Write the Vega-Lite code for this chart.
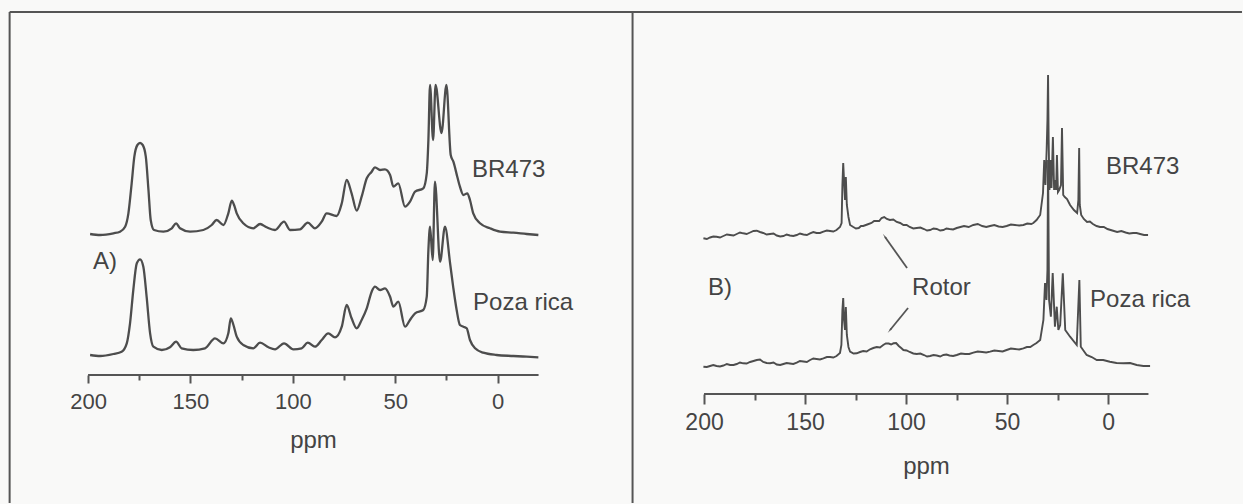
{
  "$schema": "https://vega.github.io/schema/vega-lite/v6.json",
  "width": 1243,
  "height": 504,
  "autosize": {"type": "fit", "contains": "padding"},
  "padding": 0,
  "background": "#f9f9f8",
  "config": {"view": {"stroke": null}, "font": "Liberation Sans"},
  "datasets": {
    "leftSpectra": [
      {"sample":"BR473","ppm":199.0,"v":270},{"sample":"BR473","ppm":194.1,"v":269},{"sample":"BR473","ppm":187.6,"v":270.7},{"sample":"BR473","ppm":184.4,"v":272.3},{"sample":"BR473","ppm":181.9,"v":277.3},{"sample":"BR473","ppm":180.3,"v":290.7},{"sample":"BR473","ppm":178.7,"v":320.7},{"sample":"BR473","ppm":177.4,"v":347.3},{"sample":"BR473","ppm":175.9,"v":359},{"sample":"BR473","ppm":174.6,"v":361},{"sample":"BR473","ppm":173.3,"v":359},{"sample":"BR473","ppm":171.8,"v":347.3},{"sample":"BR473","ppm":170.5,"v":314},{"sample":"BR473","ppm":169.4,"v":284},{"sample":"BR473","ppm":167.8,"v":274},{"sample":"BR473","ppm":163.2,"v":272.3},{"sample":"BR473","ppm":159.1,"v":275.7},{"sample":"BR473","ppm":157.0,"v":280.7},{"sample":"BR473","ppm":155.1,"v":275.7},{"sample":"BR473","ppm":150.2,"v":272.3},{"sample":"BR473","ppm":143.7,"v":274},{"sample":"BR473","ppm":139.6,"v":279},{"sample":"BR473","ppm":137.2,"v":284},{"sample":"BR473","ppm":133.9,"v":279},{"sample":"BR473","ppm":131.5,"v":290.7},{"sample":"BR473","ppm":129.8,"v":303.3},{"sample":"BR473","ppm":128.7,"v":299},{"sample":"BR473","ppm":127.4,"v":290.7},{"sample":"BR473","ppm":124.2,"v":280.7},{"sample":"BR473","ppm":119.3,"v":275.7},{"sample":"BR473","ppm":116.0,"v":280},{"sample":"BR473","ppm":112.8,"v":276.7},{"sample":"BR473","ppm":108.7,"v":274},{"sample":"BR473","ppm":104.3,"v":282.3},{"sample":"BR473","ppm":101.4,"v":274},{"sample":"BR473","ppm":96.5,"v":274.7},{"sample":"BR473","ppm":92.7,"v":281.3},{"sample":"BR473","ppm":89.2,"v":275.7},{"sample":"BR473","ppm":85.9,"v":282.3},{"sample":"BR473","ppm":83.5,"v":290.7},{"sample":"BR473","ppm":78.6,"v":288},{"sample":"BR473","ppm":76.1,"v":300.7},{"sample":"BR473","ppm":73.7,"v":324},{"sample":"BR473","ppm":71.3,"v":310.7},{"sample":"BR473","ppm":68.8,"v":293.3},{"sample":"BR473","ppm":66.4,"v":307.3},{"sample":"BR473","ppm":63.9,"v":325.7},{"sample":"BR473","ppm":61.5,"v":332.3},{"sample":"BR473","ppm":59.9,"v":336.7},{"sample":"BR473","ppm":57.4,"v":334},{"sample":"BR473","ppm":55.0,"v":334.7},{"sample":"BR473","ppm":52.5,"v":329},{"sample":"BR473","ppm":50.9,"v":317.3},{"sample":"BR473","ppm":48.5,"v":320.7},{"sample":"BR473","ppm":45.2,"v":297.3},{"sample":"BR473","ppm":42.8,"v":302.3},{"sample":"BR473","ppm":40.3,"v":312.3},{"sample":"BR473","ppm":36.3,"v":315.7},{"sample":"BR473","ppm":34.6,"v":330.7},{"sample":"BR473","ppm":33.8,"v":364},{"sample":"BR473","ppm":33.0,"v":419},{"sample":"BR473","ppm":31.5,"v":364},{"sample":"BR473","ppm":30.3,"v":419},{"sample":"BR473","ppm":27.4,"v":371},{"sample":"BR473","ppm":25.0,"v":419},{"sample":"BR473","ppm":22.9,"v":349},{"sample":"BR473","ppm":21.6,"v":342.3},{"sample":"BR473","ppm":19.7,"v":327.3},{"sample":"BR473","ppm":18.4,"v":317.3},{"sample":"BR473","ppm":16.7,"v":309},{"sample":"BR473","ppm":14.8,"v":310.7},{"sample":"BR473","ppm":13.5,"v":304},{"sample":"BR473","ppm":11.9,"v":290.7},{"sample":"BR473","ppm":8.6,"v":280.7},{"sample":"BR473","ppm":3.7,"v":275.7},{"sample":"BR473","ppm":-1.2,"v":272.3},{"sample":"BR473","ppm":-7.7,"v":271.3},{"sample":"BR473","ppm":-14.2,"v":270},{"sample":"BR473","ppm":-19.9,"v":269},
      {"sample":"Poza rica","ppm":199.0,"v":149},{"sample":"Poza rica","ppm":194.1,"v":148},{"sample":"Poza rica","ppm":187.6,"v":150},{"sample":"Poza rica","ppm":183.6,"v":152.3},{"sample":"Poza rica","ppm":181.1,"v":160.7},{"sample":"Poza rica","ppm":179.5,"v":180.7},{"sample":"Poza rica","ppm":177.9,"v":214},{"sample":"Poza rica","ppm":176.2,"v":240.7},{"sample":"Poza rica","ppm":174.6,"v":244.7},{"sample":"Poza rica","ppm":173.0,"v":237.3},{"sample":"Poza rica","ppm":171.4,"v":207.3},{"sample":"Poza rica","ppm":169.7,"v":170.7},{"sample":"Poza rica","ppm":168.1,"v":157.3},{"sample":"Poza rica","ppm":164.0,"v":154},{"sample":"Poza rica","ppm":160.0,"v":156.7},{"sample":"Poza rica","ppm":157.0,"v":162.3},{"sample":"Poza rica","ppm":154.3,"v":155.7},{"sample":"Poza rica","ppm":148.6,"v":154},{"sample":"Poza rica","ppm":142.9,"v":155.7},{"sample":"Poza rica","ppm":138.0,"v":165.7},{"sample":"Poza rica","ppm":133.9,"v":160.7},{"sample":"Poza rica","ppm":131.5,"v":170.7},{"sample":"Poza rica","ppm":130.3,"v":185.7},{"sample":"Poza rica","ppm":129.0,"v":179},{"sample":"Poza rica","ppm":127.4,"v":167.3},{"sample":"Poza rica","ppm":124.2,"v":159},{"sample":"Poza rica","ppm":119.3,"v":155.7},{"sample":"Poza rica","ppm":116.0,"v":161.3},{"sample":"Poza rica","ppm":111.9,"v":156.7},{"sample":"Poza rica","ppm":108.7,"v":154.7},{"sample":"Poza rica","ppm":104.3,"v":160.7},{"sample":"Poza rica","ppm":99.7,"v":154.7},{"sample":"Poza rica","ppm":95.7,"v":155.7},{"sample":"Poza rica","ppm":92.7,"v":161.3},{"sample":"Poza rica","ppm":89.2,"v":157.3},{"sample":"Poza rica","ppm":85.9,"v":164},{"sample":"Poza rica","ppm":82.7,"v":170.7},{"sample":"Poza rica","ppm":79.4,"v":166.7},{"sample":"Poza rica","ppm":76.1,"v":177.3},{"sample":"Poza rica","ppm":73.7,"v":199},{"sample":"Poza rica","ppm":71.3,"v":185.7},{"sample":"Poza rica","ppm":68.8,"v":175.7},{"sample":"Poza rica","ppm":66.4,"v":184},{"sample":"Poza rica","ppm":63.9,"v":195.7},{"sample":"Poza rica","ppm":61.5,"v":212.3},{"sample":"Poza rica","ppm":59.9,"v":217.3},{"sample":"Poza rica","ppm":57.4,"v":214},{"sample":"Poza rica","ppm":55.0,"v":215.7},{"sample":"Poza rica","ppm":52.5,"v":207.3},{"sample":"Poza rica","ppm":50.9,"v":197.3},{"sample":"Poza rica","ppm":48.5,"v":202.3},{"sample":"Poza rica","ppm":45.2,"v":177.3},{"sample":"Poza rica","ppm":42.8,"v":184},{"sample":"Poza rica","ppm":40.3,"v":190.7},{"sample":"Poza rica","ppm":36.3,"v":194},{"sample":"Poza rica","ppm":34.6,"v":207.3},{"sample":"Poza rica","ppm":33.8,"v":254},{"sample":"Poza rica","ppm":33.0,"v":277.3},{"sample":"Poza rica","ppm":31.7,"v":244},{"sample":"Poza rica","ppm":30.6,"v":322.3},{"sample":"Poza rica","ppm":28.1,"v":242.3},{"sample":"Poza rica","ppm":25.7,"v":277.3},{"sample":"Poza rica","ppm":23.2,"v":240.7},{"sample":"Poza rica","ppm":21.6,"v":215.7},{"sample":"Poza rica","ppm":20.0,"v":194},{"sample":"Poza rica","ppm":18.4,"v":179},{"sample":"Poza rica","ppm":16.7,"v":177.3},{"sample":"Poza rica","ppm":15.1,"v":175.7},{"sample":"Poza rica","ppm":13.5,"v":164},{"sample":"Poza rica","ppm":11.0,"v":155.7},{"sample":"Poza rica","ppm":7.0,"v":151.3},{"sample":"Poza rica","ppm":0.5,"v":149},{"sample":"Poza rica","ppm":-7.7,"v":148},{"sample":"Poza rica","ppm":-14.2,"v":147.3},{"sample":"Poza rica","ppm":-19.9,"v":146.7}
    ],
    "rightSpectra": [
      {"sample":"BR473","ppm":200.3,"v":265.7},{"sample":"BR473","ppm":198.6,"v":265},{"sample":"BR473","ppm":197.0,"v":266.5},{"sample":"BR473","ppm":195.4,"v":267.5},{"sample":"BR473","ppm":193.8,"v":267.3},{"sample":"BR473","ppm":192.1,"v":266.5},{"sample":"BR473","ppm":190.4,"v":268},{"sample":"BR473","ppm":188.7,"v":269.5},{"sample":"BR473","ppm":187.1,"v":269},{"sample":"BR473","ppm":185.4,"v":268.5},{"sample":"BR473","ppm":183.8,"v":270},{"sample":"BR473","ppm":182.2,"v":271.5},{"sample":"BR473","ppm":180.6,"v":270.7},{"sample":"BR473","ppm":178.9,"v":270},{"sample":"BR473","ppm":177.2,"v":271.5},{"sample":"BR473","ppm":175.5,"v":273},{"sample":"BR473","ppm":173.9,"v":273.3},{"sample":"BR473","ppm":172.3,"v":272},{"sample":"BR473","ppm":170.7,"v":271},{"sample":"BR473","ppm":169.0,"v":269.5},{"sample":"BR473","ppm":167.3,"v":270},{"sample":"BR473","ppm":165.6,"v":270.5},{"sample":"BR473","ppm":164.0,"v":268.5},{"sample":"BR473","ppm":162.3,"v":267.5},{"sample":"BR473","ppm":160.7,"v":268},{"sample":"BR473","ppm":159.1,"v":269.5},{"sample":"BR473","ppm":157.5,"v":268.5},{"sample":"BR473","ppm":155.8,"v":268},{"sample":"BR473","ppm":154.1,"v":269},{"sample":"BR473","ppm":152.5,"v":270.5},{"sample":"BR473","ppm":150.8,"v":269.5},{"sample":"BR473","ppm":149.1,"v":269},{"sample":"BR473","ppm":147.5,"v":270.7},{"sample":"BR473","ppm":145.9,"v":272},{"sample":"BR473","ppm":144.3,"v":271},{"sample":"BR473","ppm":142.6,"v":271},{"sample":"BR473","ppm":140.9,"v":272.3},{"sample":"BR473","ppm":139.2,"v":273.5},{"sample":"BR473","ppm":137.6,"v":273},{"sample":"BR473","ppm":136.0,"v":272.5},{"sample":"BR473","ppm":134.4,"v":274},{"sample":"BR473","ppm":132.7,"v":277},{"sample":"BR473","ppm":131.9,"v":281},{"sample":"BR473","ppm":131.5,"v":319},{"sample":"BR473","ppm":131.1,"v":341},{"sample":"BR473","ppm":130.7,"v":324},{"sample":"BR473","ppm":130.2,"v":304},{"sample":"BR473","ppm":129.8,"v":327},{"sample":"BR473","ppm":129.3,"v":299},{"sample":"BR473","ppm":128.5,"v":287},{"sample":"BR473","ppm":127.7,"v":279},{"sample":"BR473","ppm":126.1,"v":277},{"sample":"BR473","ppm":124.8,"v":275.5},{"sample":"BR473","ppm":123.4,"v":276},{"sample":"BR473","ppm":122.3,"v":278},{"sample":"BR473","ppm":121.2,"v":278},{"sample":"BR473","ppm":119.2,"v":279.5},{"sample":"BR473","ppm":117.1,"v":281},{"sample":"BR473","ppm":115.8,"v":283},{"sample":"BR473","ppm":114.5,"v":283},{"sample":"BR473","ppm":113.3,"v":283},{"sample":"BR473","ppm":112.1,"v":286},{"sample":"BR473","ppm":110.8,"v":287},{"sample":"BR473","ppm":109.5,"v":285},{"sample":"BR473","ppm":108.0,"v":284},{"sample":"BR473","ppm":106.3,"v":284.5},{"sample":"BR473","ppm":104.6,"v":282},{"sample":"BR473","ppm":102.9,"v":281},{"sample":"BR473","ppm":101.3,"v":279},{"sample":"BR473","ppm":99.7,"v":279},{"sample":"BR473","ppm":98.2,"v":277},{"sample":"BR473","ppm":96.4,"v":275.5},{"sample":"BR473","ppm":94.7,"v":276},{"sample":"BR473","ppm":92.9,"v":276.5},{"sample":"BR473","ppm":91.1,"v":275},{"sample":"BR473","ppm":89.6,"v":273.5},{"sample":"BR473","ppm":88.1,"v":274},{"sample":"BR473","ppm":86.4,"v":275.5},{"sample":"BR473","ppm":84.8,"v":275},{"sample":"BR473","ppm":83.1,"v":273.5},{"sample":"BR473","ppm":81.5,"v":274},{"sample":"BR473","ppm":80.0,"v":275.5},{"sample":"BR473","ppm":78.5,"v":275},{"sample":"BR473","ppm":76.7,"v":274.5},{"sample":"BR473","ppm":74.9,"v":276},{"sample":"BR473","ppm":73.1,"v":277},{"sample":"BR473","ppm":71.3,"v":278},{"sample":"BR473","ppm":69.0,"v":277},{"sample":"BR473","ppm":66.7,"v":279},{"sample":"BR473","ppm":64.5,"v":280},{"sample":"BR473","ppm":62.3,"v":278},{"sample":"BR473","ppm":60.3,"v":277},{"sample":"BR473","ppm":58.4,"v":278},{"sample":"BR473","ppm":56.3,"v":279},{"sample":"BR473","ppm":54.2,"v":277.5},{"sample":"BR473","ppm":52.2,"v":277},{"sample":"BR473","ppm":50.2,"v":278},{"sample":"BR473","ppm":48.1,"v":279.5},{"sample":"BR473","ppm":46.1,"v":279},{"sample":"BR473","ppm":44.0,"v":278.5},{"sample":"BR473","ppm":41.9,"v":279},{"sample":"BR473","ppm":40.0,"v":280.5},{"sample":"BR473","ppm":38.0,"v":280},{"sample":"BR473","ppm":37.0,"v":281},{"sample":"BR473","ppm":35.4,"v":284},{"sample":"BR473","ppm":33.6,"v":289},{"sample":"BR473","ppm":32.2,"v":311},{"sample":"BR473","ppm":31.6,"v":344},{"sample":"BR473","ppm":31.0,"v":319},{"sample":"BR473","ppm":30.4,"v":354},{"sample":"BR473","ppm":30.0,"v":384},{"sample":"BR473","ppm":29.7,"v":429},{"sample":"BR473","ppm":29.4,"v":364},{"sample":"BR473","ppm":29.0,"v":314},{"sample":"BR473","ppm":28.4,"v":344},{"sample":"BR473","ppm":28.0,"v":316},{"sample":"BR473","ppm":27.3,"v":367},{"sample":"BR473","ppm":26.7,"v":314},{"sample":"BR473","ppm":26.3,"v":324},{"sample":"BR473","ppm":25.7,"v":314},{"sample":"BR473","ppm":25.3,"v":349},{"sample":"BR473","ppm":24.8,"v":312},{"sample":"BR473","ppm":24.2,"v":314},{"sample":"BR473","ppm":23.3,"v":319},{"sample":"BR473","ppm":22.8,"v":376},{"sample":"BR473","ppm":22.2,"v":309},{"sample":"BR473","ppm":21.4,"v":307},{"sample":"BR473","ppm":20.3,"v":305},{"sample":"BR473","ppm":18.8,"v":299},{"sample":"BR473","ppm":16.9,"v":294},{"sample":"BR473","ppm":15.3,"v":291},{"sample":"BR473","ppm":14.7,"v":304},{"sample":"BR473","ppm":14.3,"v":356},{"sample":"BR473","ppm":14.0,"v":299},{"sample":"BR473","ppm":13.3,"v":289},{"sample":"BR473","ppm":12.0,"v":285},{"sample":"BR473","ppm":10.4,"v":282},{"sample":"BR473","ppm":9.0,"v":282.5},{"sample":"BR473","ppm":7.5,"v":280},{"sample":"BR473","ppm":5.7,"v":278},{"sample":"BR473","ppm":4.0,"v":277},{"sample":"BR473","ppm":2.1,"v":277},{"sample":"BR473","ppm":0.3,"v":275},{"sample":"BR473","ppm":-2.1,"v":273.5},{"sample":"BR473","ppm":-4.5,"v":272},{"sample":"BR473","ppm":-6.6,"v":273},{"sample":"BR473","ppm":-8.7,"v":271.5},{"sample":"BR473","ppm":-10.5,"v":270.5},{"sample":"BR473","ppm":-12.4,"v":271},{"sample":"BR473","ppm":-14.1,"v":271},{"sample":"BR473","ppm":-15.9,"v":270},{"sample":"BR473","ppm":-17.8,"v":269},{"sample":"BR473","ppm":-19.8,"v":269},
      {"sample":"Poza rica","ppm":200.3,"v":137.3},{"sample":"Poza rica","ppm":198.6,"v":137},{"sample":"Poza rica","ppm":197.0,"v":138},{"sample":"Poza rica","ppm":195.4,"v":139},{"sample":"Poza rica","ppm":193.8,"v":138},{"sample":"Poza rica","ppm":192.1,"v":137.5},{"sample":"Poza rica","ppm":190.4,"v":138.5},{"sample":"Poza rica","ppm":188.7,"v":140},{"sample":"Poza rica","ppm":187.1,"v":139},{"sample":"Poza rica","ppm":185.4,"v":139},{"sample":"Poza rica","ppm":183.8,"v":140},{"sample":"Poza rica","ppm":182.2,"v":141.5},{"sample":"Poza rica","ppm":180.6,"v":140.7},{"sample":"Poza rica","ppm":178.9,"v":140.5},{"sample":"Poza rica","ppm":177.2,"v":142},{"sample":"Poza rica","ppm":175.5,"v":143},{"sample":"Poza rica","ppm":173.9,"v":144},{"sample":"Poza rica","ppm":172.3,"v":144.5},{"sample":"Poza rica","ppm":170.7,"v":142},{"sample":"Poza rica","ppm":169.0,"v":141},{"sample":"Poza rica","ppm":167.3,"v":140.7},{"sample":"Poza rica","ppm":165.6,"v":141.5},{"sample":"Poza rica","ppm":164.0,"v":139.5},{"sample":"Poza rica","ppm":162.3,"v":139},{"sample":"Poza rica","ppm":160.7,"v":140},{"sample":"Poza rica","ppm":159.1,"v":141},{"sample":"Poza rica","ppm":157.5,"v":140.5},{"sample":"Poza rica","ppm":155.8,"v":140},{"sample":"Poza rica","ppm":154.1,"v":141.3},{"sample":"Poza rica","ppm":152.5,"v":143},{"sample":"Poza rica","ppm":150.8,"v":142.5},{"sample":"Poza rica","ppm":149.1,"v":142},{"sample":"Poza rica","ppm":147.5,"v":144},{"sample":"Poza rica","ppm":145.9,"v":145.5},{"sample":"Poza rica","ppm":144.3,"v":145},{"sample":"Poza rica","ppm":142.6,"v":144.5},{"sample":"Poza rica","ppm":140.9,"v":145.7},{"sample":"Poza rica","ppm":139.2,"v":147},{"sample":"Poza rica","ppm":137.6,"v":147},{"sample":"Poza rica","ppm":136.0,"v":146.5},{"sample":"Poza rica","ppm":134.4,"v":148},{"sample":"Poza rica","ppm":132.7,"v":151},{"sample":"Poza rica","ppm":132.0,"v":159},{"sample":"Poza rica","ppm":131.5,"v":194},{"sample":"Poza rica","ppm":131.1,"v":206},{"sample":"Poza rica","ppm":130.7,"v":184},{"sample":"Poza rica","ppm":130.2,"v":174},{"sample":"Poza rica","ppm":129.8,"v":197},{"sample":"Poza rica","ppm":129.3,"v":169},{"sample":"Poza rica","ppm":128.5,"v":157},{"sample":"Poza rica","ppm":127.7,"v":152.3},{"sample":"Poza rica","ppm":126.0,"v":150.5},{"sample":"Poza rica","ppm":124.4,"v":150.7},{"sample":"Poza rica","ppm":122.8,"v":152},{"sample":"Poza rica","ppm":121.2,"v":153},{"sample":"Poza rica","ppm":119.5,"v":152.5},{"sample":"Poza rica","ppm":117.8,"v":154.7},{"sample":"Poza rica","ppm":116.2,"v":156},{"sample":"Poza rica","ppm":114.5,"v":157},{"sample":"Poza rica","ppm":112.9,"v":156.5},{"sample":"Poza rica","ppm":111.3,"v":159},{"sample":"Poza rica","ppm":110.0,"v":160.5},{"sample":"Poza rica","ppm":108.6,"v":160.5},{"sample":"Poza rica","ppm":107.4,"v":159.5},{"sample":"Poza rica","ppm":106.2,"v":160.7},{"sample":"Poza rica","ppm":104.9,"v":161},{"sample":"Poza rica","ppm":103.6,"v":158},{"sample":"Poza rica","ppm":102.4,"v":156},{"sample":"Poza rica","ppm":101.3,"v":154},{"sample":"Poza rica","ppm":99.7,"v":153.5},{"sample":"Poza rica","ppm":98.2,"v":152},{"sample":"Poza rica","ppm":96.4,"v":150.5},{"sample":"Poza rica","ppm":94.7,"v":150},{"sample":"Poza rica","ppm":92.9,"v":150.5},{"sample":"Poza rica","ppm":91.1,"v":149},{"sample":"Poza rica","ppm":89.6,"v":147.5},{"sample":"Poza rica","ppm":88.1,"v":148},{"sample":"Poza rica","ppm":86.4,"v":149},{"sample":"Poza rica","ppm":84.8,"v":148.5},{"sample":"Poza rica","ppm":83.1,"v":147.5},{"sample":"Poza rica","ppm":81.5,"v":149},{"sample":"Poza rica","ppm":80.0,"v":149.5},{"sample":"Poza rica","ppm":78.5,"v":148.5},{"sample":"Poza rica","ppm":76.7,"v":148},{"sample":"Poza rica","ppm":74.9,"v":149},{"sample":"Poza rica","ppm":72.8,"v":150.5},{"sample":"Poza rica","ppm":70.8,"v":150},{"sample":"Poza rica","ppm":68.7,"v":150},{"sample":"Poza rica","ppm":66.7,"v":151.3},{"sample":"Poza rica","ppm":64.5,"v":152.5},{"sample":"Poza rica","ppm":62.3,"v":152},{"sample":"Poza rica","ppm":60.3,"v":151.5},{"sample":"Poza rica","ppm":58.4,"v":152.3},{"sample":"Poza rica","ppm":56.3,"v":153.5},{"sample":"Poza rica","ppm":54.2,"v":153},{"sample":"Poza rica","ppm":52.2,"v":152.5},{"sample":"Poza rica","ppm":50.2,"v":154},{"sample":"Poza rica","ppm":48.1,"v":155.5},{"sample":"Poza rica","ppm":46.1,"v":155},{"sample":"Poza rica","ppm":44.0,"v":154.5},{"sample":"Poza rica","ppm":41.9,"v":155.7},{"sample":"Poza rica","ppm":40.2,"v":157},{"sample":"Poza rica","ppm":38.5,"v":157},{"sample":"Poza rica","ppm":37.0,"v":159},{"sample":"Poza rica","ppm":35.4,"v":161},{"sample":"Poza rica","ppm":33.6,"v":164},{"sample":"Poza rica","ppm":32.0,"v":184},{"sample":"Poza rica","ppm":31.2,"v":221},{"sample":"Poza rica","ppm":30.5,"v":204},{"sample":"Poza rica","ppm":30.0,"v":234},{"sample":"Poza rica","ppm":29.7,"v":344},{"sample":"Poza rica","ppm":29.2,"v":204},{"sample":"Poza rica","ppm":28.3,"v":187.3},{"sample":"Poza rica","ppm":27.4,"v":231},{"sample":"Poza rica","ppm":26.3,"v":177.3},{"sample":"Poza rica","ppm":25.4,"v":197.3},{"sample":"Poza rica","ppm":24.6,"v":174},{"sample":"Poza rica","ppm":23.7,"v":179},{"sample":"Poza rica","ppm":22.4,"v":230.7},{"sample":"Poza rica","ppm":21.2,"v":174},{"sample":"Poza rica","ppm":18.8,"v":167.3},{"sample":"Poza rica","ppm":15.5,"v":159},{"sample":"Poza rica","ppm":14.2,"v":224},{"sample":"Poza rica","ppm":13.5,"v":157.3},{"sample":"Poza rica","ppm":10.6,"v":149},{"sample":"Poza rica","ppm":8.1,"v":147},{"sample":"Poza rica","ppm":5.6,"v":144},{"sample":"Poza rica","ppm":2.4,"v":144},{"sample":"Poza rica","ppm":-0.9,"v":142.3},{"sample":"Poza rica","ppm":-4.2,"v":141},{"sample":"Poza rica","ppm":-7.6,"v":140.7},{"sample":"Poza rica","ppm":-10.9,"v":141},{"sample":"Poza rica","ppm":-14.2,"v":139},{"sample":"Poza rica","ppm":-17.5,"v":138},{"sample":"Poza rica","ppm":-20.8,"v":138}
    ],
    "leftLabels": [
      {"ppm": 12.5, "v": 334, "label": "BR473"},
      {"ppm": 12.0, "v": 201, "label": "Poza rica"},
      {"ppm": 197.6, "v": 242, "label": "A)"}
    ],
    "rightLabels": [
      {"ppm": 1.0, "v": 337, "label": "BR473"},
      {"ppm": 8.9, "v": 204, "label": "Poza rica"},
      {"ppm": 198.0, "v": 216, "label": "B)"},
      {"ppm": 97.0, "v": 216, "label": "Rotor"}
    ],
    "frame": [
      {"ppm": 238.3, "v": 492, "ppm2": -363.5, "v2": 492},
      {"ppm": 238.3, "v": 492, "ppm2": 238.3, "v2": 1},
      {"ppm": -65.9, "v": 492, "ppm2": -65.9, "v2": 1}
    ],
    "leftAxisLine": [{"ppm": 200, "ppm2": -20, "v": 129}],
    "rightAxisLine": [{"ppm": 200, "ppm2": -20, "v": 110}],
    "arrowLines": [
      {"ppm": 99.5, "v": 236, "ppm2": 110.4, "v2": 267},
      {"ppm": 99.0, "v": 196, "ppm2": 107.9, "v2": 174}
    ],
    "arrowUp": [{"ppm": 110.4, "v": 267}],
    "arrowDown": [{"ppm": 107.9, "v": 174}]
  },
  "layer": [
    {
      "layer": [
        {
          "data": {"name": "leftSpectra"},
          "mark": {"type": "line", "color": "#4d4d4d", "strokeWidth": 2.3, "interpolate": "monotone"},
          "encoding": {
            "x": {"field": "ppm", "type": "quantitative",
              "scale": {"domain": [-364, 243], "reverse": true, "nice": false, "zero": false},
              "axis": {
                "orient": "bottom", "offset": -129,
                "values": [200, 175, 150, 125, 100, 75, 50, 25, 0],
                "labelExpr": "datum.value % 50 === 0 ? datum.label : ''",
                "domain": false, "grid": false,
                "tickSize": {"condition": {"test": "datum.value % 50 === 0", "value": 8}, "value": 5},
                "tickColor": "#555555", "tickWidth": 2,
                "labelFontSize": 22, "labelFont": "Liberation Sans", "labelColor": "#444444",
                "labelPadding": 8, "labelFlush": false, "labelOverlap": false,
                "title": "ppm", "titleFontSize": 24, "titleFont": "Liberation Sans", "titleFontWeight": "normal",
                "titleColor": "#444444", "titleX": 313, "titleY": 72.5, "titleBaseline": "alphabetic", "titleAlign": "center"
              }},
            "y": {"field": "v", "type": "quantitative", "scale": {"domain": [0, 504], "nice": false, "zero": false}, "axis": null},
            "detail": {"field": "sample"}
          }
        },
        {
          "data": {"name": "frame"},
          "mark": {"type": "rule", "color": "#555555", "strokeWidth": 2},
          "encoding": {
            "x": {"field": "ppm", "type": "quantitative", "scale": {"domain": [-364, 243], "reverse": true, "nice": false, "zero": false}},
            "x2": {"field": "ppm2"},
            "y": {"field": "v", "type": "quantitative", "scale": {"domain": [0, 504], "nice": false, "zero": false}},
            "y2": {"field": "v2"}
          }
        },
        {
          "data": {"name": "leftAxisLine"},
          "mark": {"type": "rule", "color": "#555555", "strokeWidth": 2},
          "encoding": {
            "x": {"field": "ppm", "type": "quantitative", "scale": {"domain": [-364, 243], "reverse": true, "nice": false, "zero": false}},
            "x2": {"field": "ppm2"},
            "y": {"field": "v", "type": "quantitative", "scale": {"domain": [0, 504], "nice": false, "zero": false}}
          }
        },
        {
          "data": {"name": "leftLabels"},
          "mark": {"type": "text", "align": "left", "baseline": "middle", "fontSize": 24, "font": "Liberation Sans", "color": "#444444"},
          "encoding": {
            "x": {"field": "ppm", "type": "quantitative", "scale": {"domain": [-364, 243], "reverse": true, "nice": false, "zero": false}},
            "y": {"field": "v", "type": "quantitative", "scale": {"domain": [0, 504], "nice": false, "zero": false}},
            "text": {"field": "label"}
          }
        }
      ]
    },
    {
      "layer": [
        {
          "data": {"name": "rightSpectra"},
          "mark": {"type": "line", "color": "#4d4d4d", "strokeWidth": 1.9},
          "encoding": {
            "x": {"field": "ppm", "type": "quantitative",
              "scale": {"domain": [-66.8, 548.5], "reverse": true, "nice": false, "zero": false},
              "axis": {
                "orient": "bottom", "offset": -110,
                "values": [200, 175, 150, 125, 100, 75, 50, 25, 0],
                "labelExpr": "datum.value % 50 === 0 ? datum.label : ''",
                "domain": false, "grid": false,
                "tickSize": {"condition": {"test": "datum.value % 50 === 0", "value": 10}, "value": 6},
                "tickColor": "#555555", "tickWidth": 2,
                "labelFontSize": 23, "labelFont": "Liberation Sans", "labelColor": "#444444",
                "labelPadding": 7, "labelFlush": false, "labelOverlap": false,
                "title": "ppm", "titleFontSize": 24, "titleFont": "Liberation Sans", "titleFontWeight": "normal",
                "titleColor": "#444444", "titleX": 926, "titleY": 79.5, "titleBaseline": "alphabetic", "titleAlign": "center"
              }},
            "y": {"field": "v", "type": "quantitative", "scale": {"domain": [0, 504], "nice": false, "zero": false}, "axis": null},
            "detail": {"field": "sample"}
          }
        },
        {
          "data": {"name": "rightAxisLine"},
          "mark": {"type": "rule", "color": "#555555", "strokeWidth": 2},
          "encoding": {
            "x": {"field": "ppm", "type": "quantitative", "scale": {"domain": [-66.8, 548.5], "reverse": true, "nice": false, "zero": false}},
            "x2": {"field": "ppm2"},
            "y": {"field": "v", "type": "quantitative", "scale": {"domain": [0, 504], "nice": false, "zero": false}}
          }
        },
        {
          "data": {"name": "arrowLines"},
          "mark": {"type": "rule", "color": "#555555", "strokeWidth": 1.8},
          "encoding": {
            "x": {"field": "ppm", "type": "quantitative", "scale": {"domain": [-66.8, 548.5], "reverse": true, "nice": false, "zero": false}},
            "x2": {"field": "ppm2"},
            "y": {"field": "v", "type": "quantitative", "scale": {"domain": [0, 504], "nice": false, "zero": false}},
            "y2": {"field": "v2"}
          }
        },
        {
          "data": {"name": "arrowUp"},
          "mark": {"type": "point", "shape": "wedge", "filled": true, "size": 45, "angle": 325, "color": "#555555", "opacity": 1},
          "encoding": {
            "x": {"field": "ppm", "type": "quantitative", "scale": {"domain": [-66.8, 548.5], "reverse": true, "nice": false, "zero": false}},
            "y": {"field": "v", "type": "quantitative", "scale": {"domain": [0, 504], "nice": false, "zero": false}}
          }
        },
        {
          "data": {"name": "arrowDown"},
          "mark": {"type": "point", "shape": "wedge", "filled": true, "size": 45, "angle": 219, "color": "#555555", "opacity": 1},
          "encoding": {
            "x": {"field": "ppm", "type": "quantitative", "scale": {"domain": [-66.8, 548.5], "reverse": true, "nice": false, "zero": false}},
            "y": {"field": "v", "type": "quantitative", "scale": {"domain": [0, 504], "nice": false, "zero": false}}
          }
        },
        {
          "data": {"name": "rightLabels"},
          "mark": {"type": "text", "align": "left", "baseline": "middle", "fontSize": 24, "font": "Liberation Sans", "color": "#444444"},
          "encoding": {
            "x": {"field": "ppm", "type": "quantitative", "scale": {"domain": [-66.8, 548.5], "reverse": true, "nice": false, "zero": false}},
            "y": {"field": "v", "type": "quantitative", "scale": {"domain": [0, 504], "nice": false, "zero": false}},
            "text": {"field": "label"}
          }
        }
      ]
    }
  ],
  "resolve": {"scale": {"x": "independent"}, "axis": {"x": "independent"}}
}
